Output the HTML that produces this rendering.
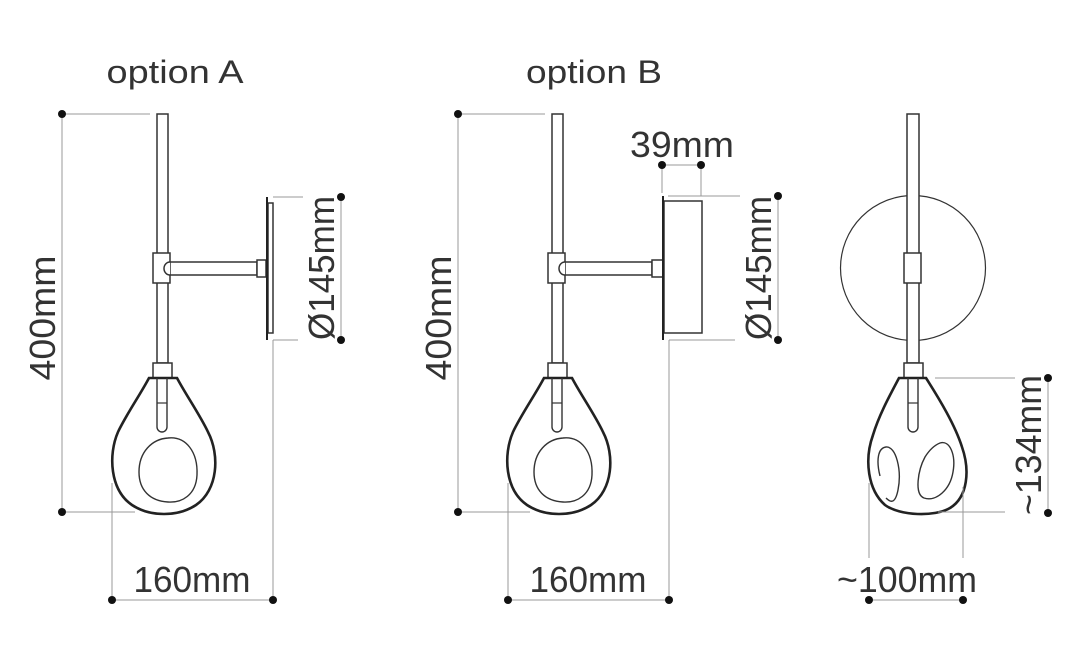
<!DOCTYPE html>
<html><head><meta charset="utf-8"><style>
html,body{margin:0;padding:0;background:#fff;}
svg{display:block;}
text{font-family:"Liberation Sans",sans-serif;fill:#333;}
</style></head><body>
<svg width="1088" height="650" viewBox="0 0 1088 650" xmlns="http://www.w3.org/2000/svg">
<defs>
<g id="lamp">
  <rect x="157" y="114" width="11" height="249" fill="#fff" stroke="#333" stroke-width="1.5"/>
  <rect x="153" y="253" width="17" height="30" fill="#fff" stroke="#333" stroke-width="1.5"/>
  <rect x="153" y="363" width="19" height="15" fill="#fff" stroke="#333" stroke-width="1.5"/>
  <path d="M149,378 C140,395 126,415 118,432 C108,455 110,490 132,505 C150,517 178,517 196,505 C218,490 220,455 208,432 C200,415 186,395 177,378 Z" fill="#fff" stroke="#222" stroke-width="2.6"/>
  <path d="M157,378 L157,427 A5,5 0 0 0 167,427 L167,378" fill="none" stroke="#333" stroke-width="1.4"/>
  <line x1="157" y1="403" x2="167" y2="403" stroke="#333" stroke-width="1.2"/>
  <path d="M168,438 C186,436 198,452 197,475 C196,495 182,503 168,502 C150,501 139,490 139,472 C139,452 152,439 168,438 Z" fill="none" stroke="#333" stroke-width="1.4"/>
</g>
</defs>

<!-- ===== Option A ===== -->
<text x="175" y="83" font-size="32" text-anchor="middle" textLength="137" lengthAdjust="spacingAndGlyphs">option A</text>
<g stroke="#999" stroke-width="1" fill="none">
  <line x1="62" y1="114" x2="150" y2="114"/>
  <line x1="62" y1="114" x2="62" y2="512"/>
  <line x1="62" y1="512" x2="135" y2="512"/>
  <line x1="112" y1="483" x2="112" y2="600"/>
  <line x1="112" y1="600" x2="273" y2="600"/>
  <line x1="273" y1="340" x2="273" y2="600"/>
  <line x1="273" y1="340" x2="298" y2="340"/>
  <line x1="273" y1="197" x2="303" y2="197"/>
  <line x1="341" y1="197" x2="341" y2="340"/>
</g>
<use href="#lamp"/>
<g stroke="#333" stroke-width="1.5" fill="#fff">
  <rect x="170" y="262" width="87" height="13"/>
  <path d="M170,262 A6,6.5 0 0 0 170,275"/>
  <rect x="257" y="260" width="9" height="17"/>
  <rect x="268" y="203" width="5" height="130"/>
</g>
<line x1="267" y1="197" x2="267" y2="340" stroke="#222" stroke-width="2"/>
<g fill="#111">
  <circle cx="62" cy="114" r="4"/><circle cx="62" cy="512" r="4"/>
  <circle cx="112" cy="600" r="4"/><circle cx="273" cy="600" r="4"/>
  <circle cx="341" cy="197" r="4"/><circle cx="341" cy="340" r="4"/>
</g>
<text x="192" y="592" font-size="36" text-anchor="middle" textLength="117" lengthAdjust="spacingAndGlyphs">160mm</text>
<text transform="translate(55,318) rotate(-90)" font-size="36" text-anchor="middle" textLength="125" lengthAdjust="spacingAndGlyphs">400mm</text>
<text transform="translate(334,268) rotate(-90)" font-size="36" text-anchor="middle" textLength="144" lengthAdjust="spacingAndGlyphs">Ø145mm</text>

<!-- ===== Option B ===== -->
<text x="594" y="83" font-size="32" text-anchor="middle" textLength="136" lengthAdjust="spacingAndGlyphs">option B</text>
<g stroke="#999" stroke-width="1" fill="none">
  <line x1="458" y1="114" x2="545" y2="114"/>
  <line x1="458" y1="114" x2="458" y2="512"/>
  <line x1="458" y1="512" x2="530" y2="512"/>
  <line x1="508" y1="483" x2="508" y2="600"/>
  <line x1="508" y1="600" x2="669" y2="600"/>
  <line x1="669" y1="340" x2="669" y2="600"/>
  <line x1="669" y1="340" x2="735" y2="340"/>
  <line x1="668" y1="196" x2="740" y2="196"/>
  <line x1="778" y1="196" x2="778" y2="340"/>
  <line x1="662" y1="165" x2="701" y2="165"/>
  <line x1="662" y1="165" x2="662" y2="193"/>
  <line x1="701" y1="165" x2="701" y2="196"/>
</g>
<use href="#lamp" transform="translate(395,0)"/>
<g stroke="#333" stroke-width="1.5" fill="#fff">
  <rect x="565" y="262" width="87" height="13"/>
  <path d="M565,262 A6,6.5 0 0 0 565,275"/>
  <rect x="652" y="260" width="11" height="17"/>
  <rect x="664" y="201" width="38" height="132"/>
</g>
<line x1="663" y1="196" x2="663" y2="340" stroke="#222" stroke-width="2"/>
<g fill="#111">
  <circle cx="458" cy="114" r="4"/><circle cx="458" cy="512" r="4"/>
  <circle cx="508" cy="600" r="4"/><circle cx="669" cy="600" r="4"/>
  <circle cx="778" cy="196" r="4"/><circle cx="778" cy="340" r="4"/>
  <circle cx="662" cy="165" r="4"/><circle cx="701" cy="165" r="4"/>
</g>
<text x="588" y="592" font-size="36" text-anchor="middle" textLength="117" lengthAdjust="spacingAndGlyphs">160mm</text>
<text transform="translate(451,318) rotate(-90)" font-size="36" text-anchor="middle" textLength="125" lengthAdjust="spacingAndGlyphs">400mm</text>
<text transform="translate(771,268) rotate(-90)" font-size="36" text-anchor="middle" textLength="144" lengthAdjust="spacingAndGlyphs">Ø145mm</text>
<text x="682" y="157" font-size="36" text-anchor="middle" textLength="104" lengthAdjust="spacingAndGlyphs">39mm</text>

<!-- ===== Front view ===== -->
<circle cx="913" cy="268" r="72.5" fill="#fff" stroke="#333" stroke-width="1.2"/>
<rect x="907" y="114" width="12" height="249" fill="#fff" stroke="#333" stroke-width="1.5"/>
<rect x="904" y="253" width="17" height="30" fill="#fff" stroke="#333" stroke-width="1.5"/>
<rect x="904" y="363" width="19" height="15" fill="#fff" stroke="#333" stroke-width="1.5"/>
<path d="M899,378 C890,395 879,415 873,435 C864,460 868,490 885,505 C900,516 935,517 950,508 C968,497 970,470 962,447 C955,425 940,400 926,378 Z" fill="#fff" stroke="#222" stroke-width="2.6"/>
<path d="M908,378 L908,427 A5,5 0 0 0 918,427 L918,378" fill="none" stroke="#333" stroke-width="1.4"/>
<line x1="908" y1="403" x2="918" y2="403" stroke="#333" stroke-width="1.2"/>
<path d="M880,476 C876,460 878,448 886,447 C896,446 902,470 898,490 C895,505 890,502 886,498" fill="none" stroke="#333" stroke-width="1.4"/>
<path d="M940,443 C950,440 956,455 953,472 C950,490 936,502 924,498 C914,494 918,470 925,457 C930,449 935,445 940,443 Z" fill="none" stroke="#333" stroke-width="1.4"/>
<g stroke="#999" stroke-width="1" fill="none">
  <line x1="935" y1="378" x2="1015" y2="378"/>
  <line x1="938" y1="512" x2="1005" y2="512"/>
  <line x1="1048" y1="378" x2="1048" y2="513"/>
  <line x1="869" y1="483" x2="869" y2="558"/>
  <line x1="963" y1="487" x2="963" y2="558"/>
  <line x1="869" y1="600" x2="963" y2="600"/>
</g>
<g fill="#111">
  <circle cx="1048" cy="378" r="4"/><circle cx="1048" cy="513" r="4"/>
  <circle cx="869" cy="600" r="4"/><circle cx="963" cy="600" r="4"/>
</g>
<text x="907" y="592" font-size="36" text-anchor="middle" textLength="140" lengthAdjust="spacingAndGlyphs">~100mm</text>
<text transform="translate(1041,445) rotate(-90)" font-size="36" text-anchor="middle" textLength="140" lengthAdjust="spacingAndGlyphs">~134mm</text>
</svg>
</body></html>
